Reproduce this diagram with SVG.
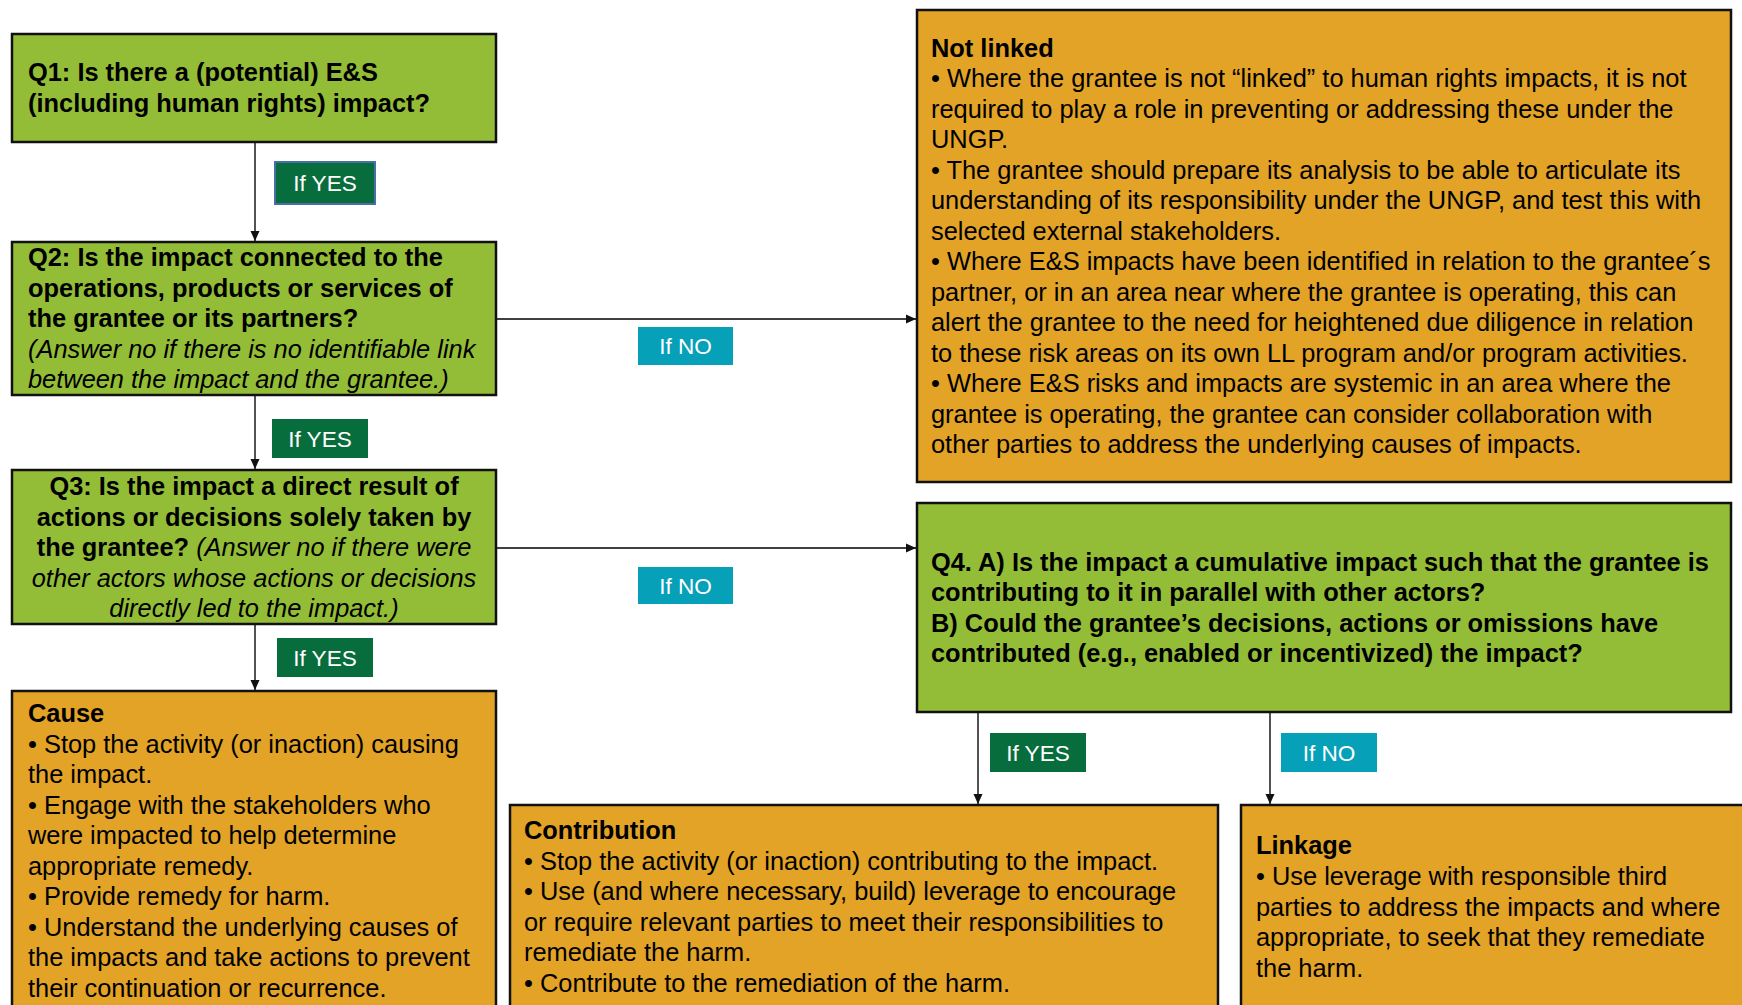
<svg xmlns="http://www.w3.org/2000/svg" width="1742" height="1005" viewBox="0 0 1742 1005">
<style>
.g{fill:#94BD37;stroke:#111;stroke-width:2.5}
.o{fill:#E2A326;stroke:#111;stroke-width:2.5}
.t{font-family:"Liberation Sans",Arial,sans-serif;font-size:25.4px;fill:#000}
.b{font-weight:bold}
.i{font-style:italic}
.yes{fill:#086D3C}
.no{fill:#06A0B8}
.bt{font-family:"Liberation Sans",Arial,sans-serif;font-size:22.6px;fill:#fff;text-anchor:middle}
.c{stroke:#404040;stroke-width:1.8;fill:none;marker-end:url(#ah)}
</style>
<defs>
<marker id="ah" markerUnits="userSpaceOnUse" markerWidth="10" markerHeight="10" refX="10" refY="5" orient="auto">
<path d="M0,0.5 L10,5 L0,9.5 z" fill="#111"/>
</marker>
</defs>
<rect width="1742" height="1005" fill="#fff"/>
<g id="connectors">
<path class="c" d="M255,142 V241"/>
<path class="c" d="M255,395 V469"/>
<path class="c" d="M255,624 V690"/>
<path class="c" d="M496,319 H916"/>
<path class="c" d="M496,548 H916"/>
<path class="c" d="M978,712 V804"/>
<path class="c" d="M1270,712 V804"/>
</g>
<g id="q1">
<rect class="g" x="12" y="34" width="484" height="108"/>
<text class="t b" x="28" y="81">Q1: Is there a (potential) E&amp;S</text>
<text class="t b" x="28" y="112">(including human rights) impact?</text>
</g>
<g id="q2">
<rect class="g" x="12" y="242" width="484" height="153"/>
<text class="t b" x="28" y="266">Q2: Is the impact connected to the</text>
<text class="t b" x="28" y="297">operations, products or services of</text>
<text class="t b" x="28" y="327">the grantee or its partners?</text>
<text class="t i" x="28" y="358">(Answer no if there is no identifiable link</text>
<text class="t i" x="28" y="388">between the impact and the grantee.)</text>
</g>
<g id="q3">
<rect class="g" x="12" y="470" width="484" height="154"/>
<text class="t b" x="254" y="495" text-anchor="middle">Q3: Is the impact a direct result of</text>
<text class="t b" x="254" y="526" text-anchor="middle">actions or decisions solely taken by</text>
<text class="t" x="254" y="556" text-anchor="middle"><tspan class="b">the grantee? </tspan><tspan class="i">(Answer no if there were</tspan></text>
<text class="t i" x="254" y="587" text-anchor="middle">other actors whose actions or decisions</text>
<text class="t i" x="254" y="617" text-anchor="middle">directly led to the impact.)</text>
</g>
<g id="cause">
<rect class="o" x="12" y="691" width="484" height="340"/>
<text class="t b" x="28" y="722">Cause</text>
<text class="t" x="28" y="752.5">• Stop the activity (or inaction) causing</text>
<text class="t" x="28" y="783">the impact.</text>
<text class="t" x="28" y="813.5">• Engage with the stakeholders who</text>
<text class="t" x="28" y="844">were impacted to help determine</text>
<text class="t" x="28" y="874.5">appropriate remedy.</text>
<text class="t" x="28" y="905">• Provide remedy for harm.</text>
<text class="t" x="28" y="935.5">• Understand the underlying causes of</text>
<text class="t" x="28" y="966">the impacts and take actions to prevent</text>
<text class="t" x="28" y="996.5">their continuation or recurrence.</text>
</g>
<g id="notlinked">
<rect class="o" x="917" y="10" width="814" height="472"/>
<text class="t b" x="931" y="57">Not linked</text>
<text class="t" x="931" y="87">• Where the grantee is not “linked” to human rights impacts, it is not</text>
<text class="t" x="931" y="118">required to play a role in preventing or addressing these under the</text>
<text class="t" x="931" y="148">UNGP.</text>
<text class="t" x="931" y="179">• The grantee should prepare its analysis to be able to articulate its</text>
<text class="t" x="931" y="209">understanding of its responsibility under the UNGP, and test this with</text>
<text class="t" x="931" y="240">selected external stakeholders.</text>
<text class="t" x="931" y="270">• Where E&amp;S impacts have been identified in relation to the grantee´s</text>
<text class="t" x="931" y="301">partner, or in an area near where the grantee is operating, this can</text>
<text class="t" x="931" y="331">alert the grantee to the need for heightened due diligence in relation</text>
<text class="t" x="931" y="362">to these risk areas on its own LL program and/or program activities.</text>
<text class="t" x="931" y="392">• Where E&amp;S risks and impacts are systemic in an area where the</text>
<text class="t" x="931" y="423">grantee is operating, the grantee can consider collaboration with</text>
<text class="t" x="931" y="453">other parties to address the underlying causes of impacts.</text>
</g>
<g id="q4">
<rect class="g" x="917" y="503" width="814" height="209"/>
<text class="t b" x="931" y="571">Q4. A) Is the impact a cumulative impact such that the grantee is</text>
<text class="t b" x="931" y="601">contributing to it in parallel with other actors?</text>
<text class="t b" x="931" y="632">B) Could the grantee’s decisions, actions or omissions have</text>
<text class="t b" x="931" y="662">contributed (e.g., enabled or incentivized) the impact?</text>
</g>
<g id="contribution">
<rect class="o" x="510" y="805" width="708" height="230"/>
<text class="t b" x="524" y="839">Contribution</text>
<text class="t" x="524" y="869.6">• Stop the activity (or inaction) contributing to the impact.</text>
<text class="t" x="524" y="900.2">• Use (and where necessary, build) leverage to encourage</text>
<text class="t" x="524" y="930.8">or require relevant parties to meet their responsibilities to</text>
<text class="t" x="524" y="961.4">remediate the harm.</text>
<text class="t" x="524" y="992">• Contribute to the remediation of the harm.</text>
</g>
<g id="linkage">
<rect class="o" x="1241" y="805" width="530" height="230"/>
<text class="t b" x="1256" y="854">Linkage</text>
<text class="t" x="1256" y="884.8">• Use leverage with responsible third</text>
<text class="t" x="1256" y="915.6">parties to address the impacts and where</text>
<text class="t" x="1256" y="946.4">appropriate, to seek that they remediate</text>
<text class="t" x="1256" y="977.2">the harm.</text>
</g>
<g id="label-yes1">
<rect class="yes" x="275" y="162" width="100" height="42" stroke="#4A6FA8" stroke-width="2"/>
<text class="bt" x="325" y="191">If YES</text>
</g>
<g id="label-yes2">
<rect class="yes" x="272" y="419" width="96" height="39"/>
<text class="bt" x="320" y="446.5">If YES</text>
</g>
<g id="label-yes3">
<rect class="yes" x="277" y="638" width="96" height="39"/>
<text class="bt" x="325" y="665.5">If YES</text>
</g>
<g id="label-no1">
<rect class="no" x="638" y="327" width="95" height="38"/>
<text class="bt" x="685.5" y="354">If NO</text>
</g>
<g id="label-no2">
<rect class="no" x="638" y="567" width="95" height="37"/>
<text class="bt" x="685.5" y="593.5">If NO</text>
</g>
<g id="label-yes4">
<rect class="yes" x="990" y="733" width="96" height="39"/>
<text class="bt" x="1038" y="760.5">If YES</text>
</g>
<g id="label-no3">
<rect class="no" x="1281" y="733" width="96" height="39"/>
<text class="bt" x="1329" y="760.5">If NO</text>
</g>
</svg>
